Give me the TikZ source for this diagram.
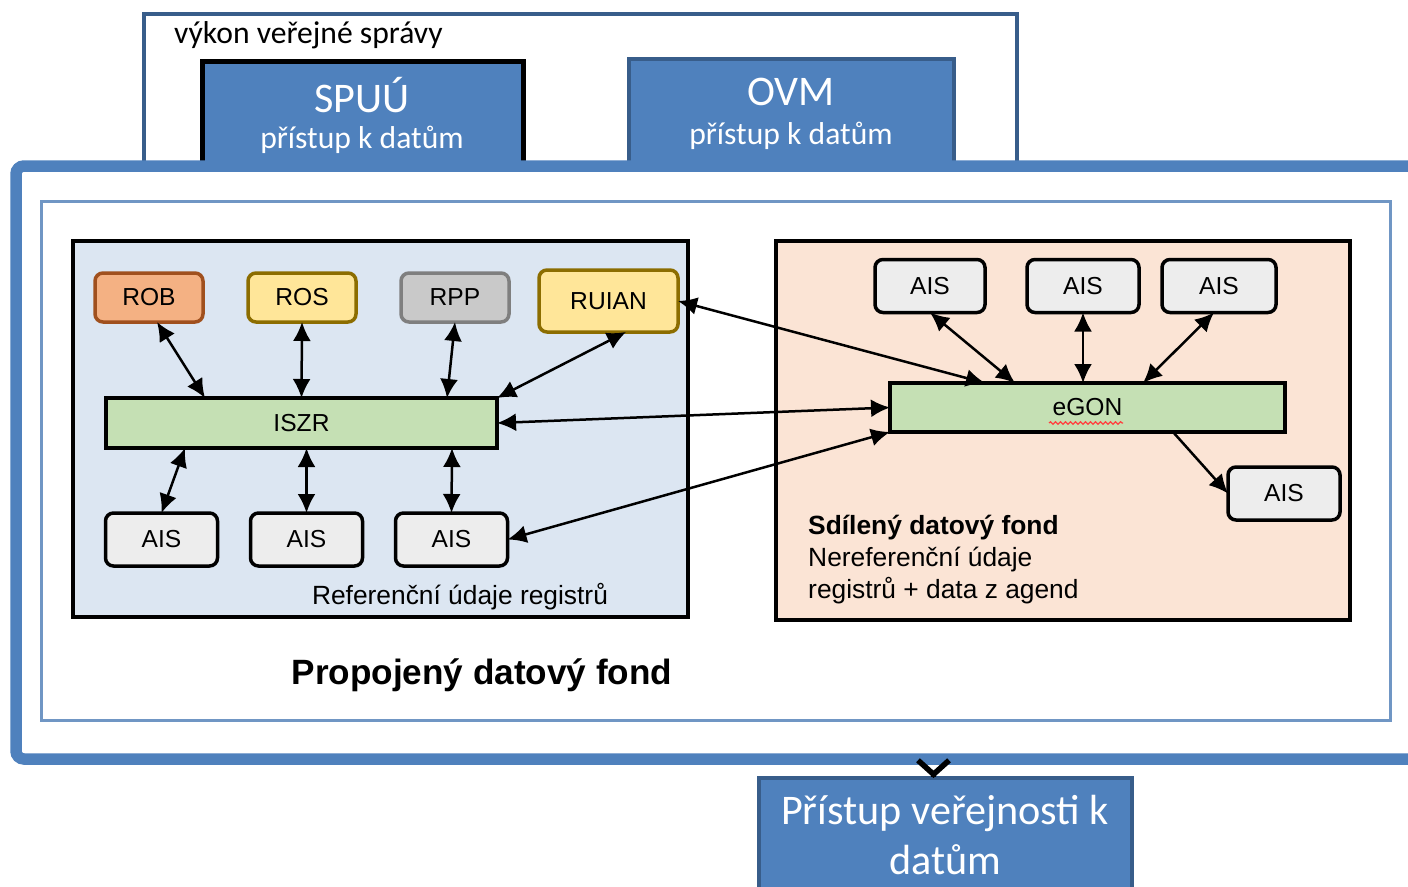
\documentclass[tikz,border=0pt]{standalone}
\usepackage{fontspec}
\setmainfont{Carlito}
\newfontfamily\arialfont{Liberation Sans}
\usepackage{xcolor}
\usetikzlibrary{arrows.meta, positioning, decorations.pathmorphing}

\definecolor{ovmblue}{HTML}{4F81BD}
\definecolor{ovmdark}{HTML}{385D8A}
\definecolor{innerline}{HTML}{7096C4}
\definecolor{panelblue}{HTML}{DCE6F2}
\definecolor{panelpeach}{HTML}{FBE4D5}
\definecolor{hubgreen}{HTML}{C5E0B4}
\definecolor{aisgray}{HTML}{EDEDED}
\definecolor{robfill}{HTML}{F4B183}
\definecolor{robline}{HTML}{A0501E}
\definecolor{yelfill}{HTML}{FFE699}
\definecolor{yelline}{HTML}{8C6D00}
\definecolor{rppfill}{HTML}{C9C9C9}
\definecolor{rppline}{HTML}{7F7F7F}

\begin{document}
\begin{tikzpicture}[
  x = 0.2mm, y = -0.2mm,
  node distance = 9mm,
  reg/.style = {rectangle, draw, line width=0.7mm, rounded corners=1.6mm, inner sep=0pt, outer sep=0pt,
                minimum width=21.6mm, minimum height=9.8mm,
                font=\arialfont\fontsize{14}{16}\selectfont},
  ais/.style = {reg, fill=aisgray, minimum width=22.4mm, minimum height=10.6mm},
  hub/.style = {rectangle, draw, line width=0.7mm, fill=hubgreen, inner sep=0pt, outer sep=0pt,
                minimum height=9.8mm, font=\arialfont\fontsize{14}{16}\selectfont},
  tile/.style = {rectangle, fill=ovmblue, draw=ovmdark, line width=0.8mm, inner sep=0pt, outer sep=0pt},
  panel/.style = {draw, line width=0.7mm},
  biarr/.style = {{Latex[length=3.8mm,width=3.6mm]}-{Latex[length=3.8mm,width=3.6mm]}, line width=0.5mm},
  arr/.style = {-{Latex[length=3.8mm,width=3.6mm]}, line width=0.5mm},
  smalltxt/.style = {text=white, font=\fontsize{18}{21}\selectfont},
  bigtxt/.style = {text=white, font=\fontsize{24}{28.5}\selectfont, align=center}
]
  \useasboundingbox (0,0) rectangle (1408,886);
  \clip (0,0) rectangle (1408,886);

  % vykon verejne spravy
  \node[draw=ovmdark, line width=0.8mm, fill=white, anchor=north west, inner sep=0pt, outer sep=0pt,
        minimum width=174.6mm, minimum height=35mm] (vvs) at (144,14) {};
  \node[anchor=west, font=\fontsize{18}{21}\selectfont] (vvstxt) at (168,35) {výkon veřejné správy};
  \node[tile, draw=black, line width=1mm, anchor=north west,
        minimum width=64.2mm, minimum height=26mm] (spuu) at (202,62) {};
  \node[tile, anchor=north west, minimum width=65mm, minimum height=26mm] (ovm) at (629,59) {};
  \node[bigtxt] (spuutxt) at (362,95) {SPUÚ};
  \node[smalltxt] (spuusub) at (362,140) {přístup k datům};
  \node[bigtxt] (ovmtxt) at (791,92) {OVM};
  \node[smalltxt] (ovmsub) at (791,136) {přístup k datům};

  % propojeny datovy fond
  \node[draw=ovmblue, line width=2.3mm, fill=white, rounded corners=1.6mm, anchor=north west,
        inner sep=0pt, outer sep=0pt, minimum width=283mm, minimum height=118.6mm] (pdf) at (16,166) {};
  \draw[draw=innerline, line width=0.6mm] (41,201) rectangle (1390,720);
  \draw[panel, fill=panelblue] (73,241) rectangle (688,617);
  \draw[panel, fill=panelpeach] (776,241) rectangle (1350,620);

  % registry
  \node[reg, fill=robfill, draw=robline] (rob) at (149,297.5) {ROB};
  \node[reg, fill=yelfill, draw=yelline, right=of rob] (ros) {ROS};
  \node[reg, fill=rppfill, draw=rppline, right=of ros] (rpp) {RPP};
  \node[reg, fill=yelfill, draw=yelline, right=6mm of rpp, yshift=-0.7mm,
        minimum width=27.8mm, minimum height=12.4mm] (ruian) {RUIAN};
  \node[hub, minimum width=78.2mm, minimum height=10mm] (iszr) at (301.5,423) {ISZR};
  \node[ais] (ais1) at (161.5,539.5) {AIS};
  \node[ais, right=6.6mm of ais1] (ais2) {AIS};
  \node[ais, right=6.6mm of ais2] (ais3) {AIS};

  % sdileny datovy fond
  \node[hub, minimum width=79mm] (egon) at (1087.5,407.5) {eGON};
  \node[ais, minimum width=22mm] (aisr1) at (930,286) {AIS};
  \node[ais, right=8.4mm of aisr1] (aisr2) {AIS};
  \node[ais, right=4.6mm of aisr2, minimum width=22.8mm] (aisr3) {AIS};
  \node[ais] (aisr4) at (1284,493.5) {AIS};
  \draw[red!75, line width=0.25mm, decorate, decoration={snake, amplitude=0.25mm, segment length=1mm}]
    ([xshift=-7.7mm,yshift=-3.1mm]egon.center) -- ([xshift=7.1mm,yshift=-3.1mm]egon.center);

  \draw[biarr] ([xshift=1.6mm]rob.south) -- ([xshift=-19.3mm]iszr.north);
  \draw[biarr] (ros.south) -- (iszr.north);
  \draw[biarr] (rpp.south) -- ([xshift=-10mm]iszr.north east);
  \draw[biarr] ([xshift=3.5mm]ruian.south) -- (iszr.north east);
  \draw[biarr] ([xshift=15.8mm]iszr.south west) -- (ais1.north);
  \draw[biarr] (ais2.north |- iszr.south) -- (ais2.north);
  \draw[biarr] ([xshift=-9mm]iszr.south east) -- (ais3.north);

  \draw[biarr] (ruian.east) -- ([xshift=19mm]egon.north west);
  \draw[biarr] (iszr.east) -- (egon.west);
  \draw[biarr] (ais3.east) -- (egon.south west);
  \draw[biarr] (aisr1.south) -- ([xshift=25mm]egon.north west);
  \draw[biarr] (aisr2.south) -- (aisr2.south |- egon.north);
  \draw[biarr] ([xshift=-1mm]aisr3.south) -- ([xshift=-28.4mm]egon.north east);
  \draw[arr] ([xshift=-22.4mm]egon.south east) -- (aisr4.west);

  \node[font=\arialfont\fontsize{15}{18}\selectfont] (reftxt) at (460,597) {Referenční údaje registrů};
  \node[anchor=west, align=left, font=\arialfont\fontsize{15}{18.2}\selectfont] (sdftxt) at (802,560)
    {\textbf{Sdílený datový fond}\\Nereferenční údaje\\registrů + data z agend};
  \node[font=\arialfont\bfseries\fontsize{20}{24}\selectfont] (pdftxt) at (482,675) {Propojený datový fond};

  % pristup verejnosti
  \node[tile, anchor=north west, minimum width=74.6mm, minimum height=30mm] (pristup) at (759,778) {};
  \node[bigtxt] (pristuptxt) at (945,835) {Přístup veřejnosti k\\datům};
  \draw[line width=1.1mm, -{Straight Barb[length=2.8mm,width=6.2mm]}]
    ([xshift=-2.4mm,yshift=0.2mm]pristup.north) -- ([xshift=-2.4mm]pristup.north);
\end{tikzpicture}
\end{document}
